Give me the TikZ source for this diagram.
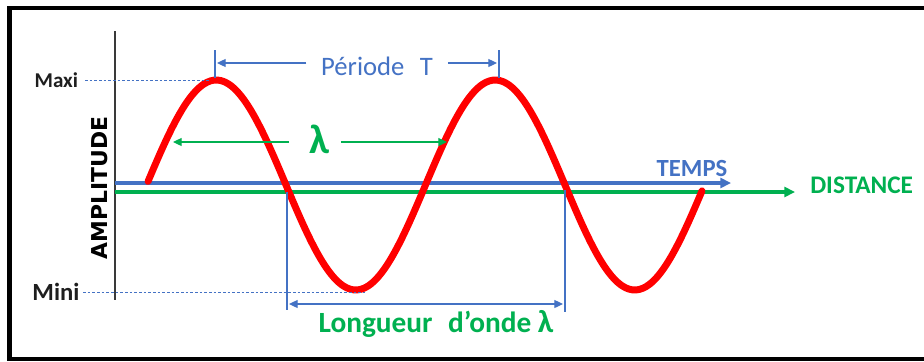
\documentclass[tikz,border=0pt]{standalone}
\usepackage{fontspec}
\setmainfont{Carlito}
\newfontfamily\ampfont{DejaVu Sans}
\usetikzlibrary{arrows.meta}
\definecolor{wavered}{HTML}{FF0000}
\definecolor{timeblue}{HTML}{4472C4}
\definecolor{distgreen}{HTML}{00B050}
\definecolor{axisgray}{HTML}{3A3A3A}
\definecolor{labeldark}{HTML}{1E1E1E}
\begin{document}
\begin{tikzpicture}[x=0.75pt,y=-0.75pt,
  dim/.style={timeblue, line width=0.9pt},
  lamline/.style={distgreen, line width=0.9pt},
  guide/.style={timeblue, line width=0.7pt, dash pattern=on 2pt off 1.5pt},
  smalltip/.style={-{Triangle[length=6.5pt,width=6pt]}},
  bigtip/.style={-{Triangle[length=8pt,width=7.5pt]}},
  both/.style={{Triangle[length=6.5pt,width=6pt]}-{Triangle[length=6.5pt,width=6pt]}}]
\useasboundingbox (0,0) rectangle (924,361);
\draw[line width=3.3pt] (9.5,8) rectangle (945,359);

\coordinate (tA) at (115,183);
\coordinate (tB) at (731,183);
\coordinate (dA) at (115,192);
\coordinate (dB) at (795,192);
\coordinate (perL) at (217,63);
\coordinate (perR) at (497,63);
\coordinate (lamL) at (173,142);
\coordinate (lamR) at (447,142);
\coordinate (wlL) at (289,304);
\coordinate (wlR) at (563,304);
\coordinate (maxiEnd) at (210,80);
\coordinate (miniEnd) at (365,292);

\draw[axisgray, line width=1.5pt] (115,31) -- (115,300);
\draw[timeblue, line width=3pt, bigtip] (tA) -- (tB);
\draw[distgreen, line width=3pt, bigtip] (dA) -- (dB);

\draw[wavered, line width=5.2pt, line cap=round]
  plot[domain=148:702, samples=160, smooth] (\x, {185-105*sin(1.29032*(\x-146.5))});

\node[anchor=east, inner xsep=5pt, labeldark, font=\bfseries\fontsize{15.8}{18}\selectfont] (maxi) at (85,80) {Maxi};
\node[anchor=east, inner xsep=2.5pt, labeldark, font=\bfseries\fontsize{18.5}{21}\selectfont] (mini) at (83,292) {Mini};
\draw[guide] (maxi.east) -- (maxiEnd);
\draw[guide] (mini.east) -- (miniEnd);

\node[rotate=90, font=\ampfont\bfseries\fontsize{16.4}{19}\selectfont] (amp) at (100,188) {AMPLITUDE};

\node[timeblue, inner xsep=11pt, font=\fontsize{20}{24}\selectfont] (per) at (377,66) {Période\hspace{0.35em} T};
\draw[dim] (215,50) -- (215,78);
\draw[dim] (499,50) -- (499,78);
\draw[dim, smalltip] (per.west |- perL) -- (perL);
\draw[dim, smalltip] (per.east |- perR) -- (perR);

\node[distgreen, inner xsep=8pt, inner ysep=0pt, font=\bfseries\fontsize{31}{34}\selectfont] (lamup) at (320,139) {λ};
\draw[lamline, smalltip, shorten <=7.5pt] (lamup.west |- lamL) -- (lamL);
\draw[lamline, smalltip] (lamup.east |- lamR) -- (lamR);

\draw[dim] (287,192) -- (287,310);
\draw[dim] (565,190) -- (565,312);
\draw[dim, both] (wlL) -- (wlR);
\node[distgreen, anchor=base, font=\bfseries\fontsize{22}{26}\selectfont] (wave) at (436,332) {Longueur\hspace{0.3em} d’onde {\fontsize{24}{26}\selectfont λ}};

\node[timeblue, font=\bfseries\fontsize{18.5}{22}\selectfont] (temps) at (692,168) {TEMPS};
\node[distgreen, anchor=west, inner xsep=3pt, font=\bfseries\fontsize{19}{22}\selectfont] (dist) at (806,185) {DISTANCE};
\end{tikzpicture}
\end{document}
